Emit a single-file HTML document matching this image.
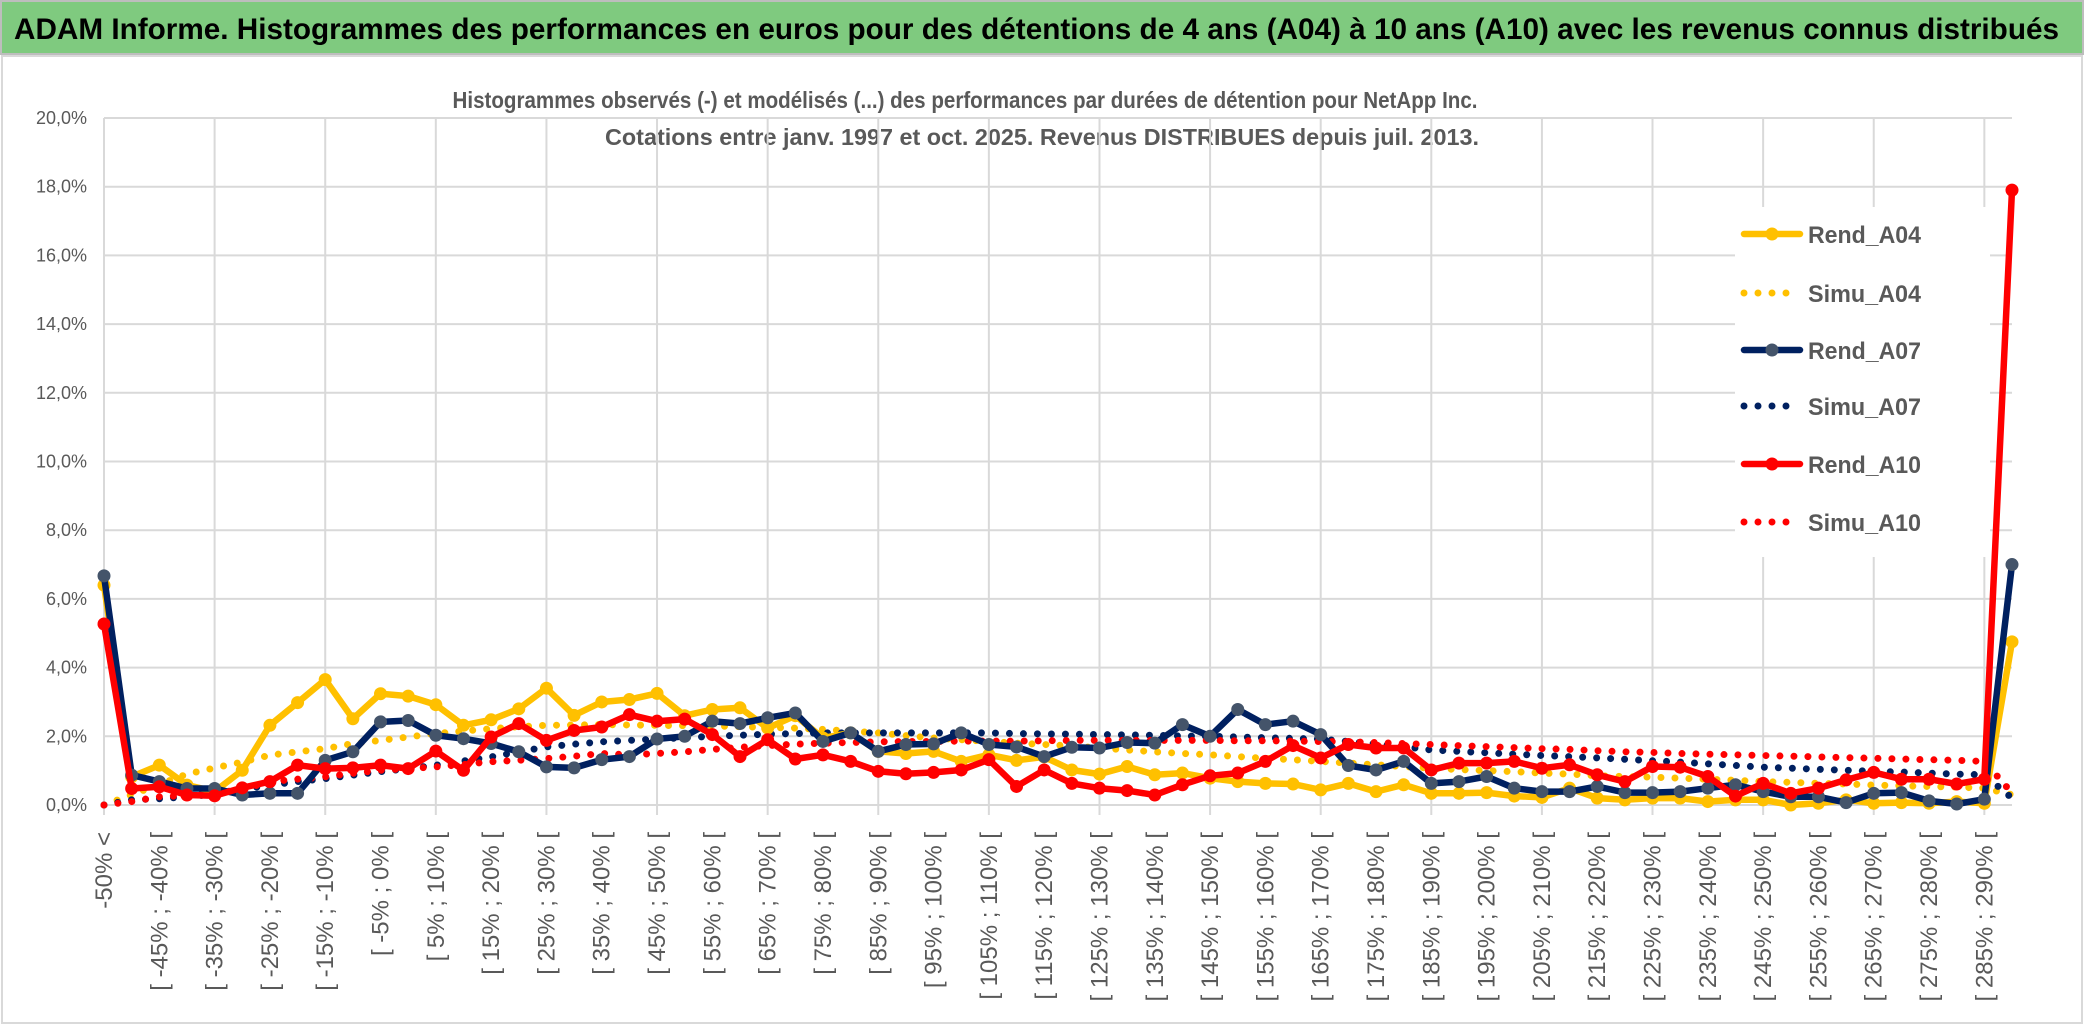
<!DOCTYPE html>
<html><head><meta charset="utf-8"><style>
html,body{margin:0;padding:0;background:#fff;}
svg{display:block;}
text{font-family:"Liberation Sans",sans-serif;}
</style></head><body>
<svg id="chart" width="2086" height="1033" viewBox="0 0 2086 1033" xmlns="http://www.w3.org/2000/svg">
<rect x="0" y="0" width="2086" height="1033" fill="#ffffff"/>
<rect x="1" y="1" width="2082" height="53" fill="#7fca7f" stroke="#bdbdbd" stroke-width="2"/>
<text x="14" y="39" font-size="30" font-weight="bold" fill="#000" textLength="2045" lengthAdjust="spacingAndGlyphs">ADAM Informe. Histogrammes des performances en euros pour des détentions de 4 ans (A04) à 10 ans (A10) avec les revenus connus distribués</text>
<rect x="2" y="56" width="2080" height="967" fill="#fff" stroke="#d9d9d9" stroke-width="2"/>
<text x="965" y="108" font-size="23" font-weight="bold" fill="#595959" text-anchor="middle" textLength="1025" lengthAdjust="spacingAndGlyphs">Histogrammes observés (-) et modélisés (...) des performances par durées de détention pour NetApp Inc.</text>
<text x="1042" y="145" font-size="23" font-weight="bold" fill="#595959" text-anchor="middle" textLength="874" lengthAdjust="spacingAndGlyphs">Cotations entre janv. 1997 et oct. 2025. Revenus DISTRIBUES depuis juil. 2013.</text>
<g id="grid"></g>
<g id="yaxis"></g>
<g id="xaxis"></g>
<rect x="1735" y="207" width="255" height="350" fill="#fff"/>
<g id="series"></g>
<g id="legend"></g>
</svg>
<script>
const yTicks = [0,2,4,6,8,10,12,14,16,18,20];
const rendA04 = [6.4,0.82,1.16,0.58,0.39,1.01,2.32,2.98,3.65,2.51,3.24,3.17,2.92,2.32,2.48,2.8,3.4,2.61,3.0,3.07,3.25,2.6,2.78,2.83,2.24,2.6,1.95,2.1,1.56,1.5,1.56,1.27,1.46,1.3,1.4,1.02,0.9,1.12,0.88,0.93,0.78,0.68,0.63,0.61,0.44,0.63,0.39,0.59,0.34,0.34,0.36,0.26,0.22,0.49,0.2,0.15,0.2,0.2,0.1,0.15,0.15,0,0.05,0.15,0.05,0.07,0.05,0.1,0.05,4.75];
const simuA04 = [0,0.3,0.6,0.9,1.08,1.25,1.45,1.55,1.64,1.79,1.88,1.98,2.08,2.15,2.22,2.28,2.32,2.33,2.34,2.33,2.32,2.31,2.3,2.28,2.26,2.24,2.2,2.15,2.1,2.02,1.95,1.9,1.85,1.8,1.76,1.72,1.66,1.6,1.55,1.5,1.46,1.41,1.36,1.32,1.27,1.22,1.17,1.12,1.07,1.03,1.0,0.97,0.93,0.9,0.85,0.83,0.81,0.78,0.75,0.72,0.68,0.66,0.63,0.61,0.58,0.56,0.54,0.52,0.49,0.3];
const rendA07 = [6.67,0.87,0.68,0.48,0.48,0.29,0.34,0.34,1.3,1.55,2.42,2.46,2.03,1.93,1.79,1.55,1.11,1.08,1.32,1.41,1.92,2.0,2.44,2.37,2.54,2.68,1.85,2.1,1.56,1.76,1.78,2.1,1.76,1.69,1.41,1.68,1.66,1.82,1.8,2.34,2.0,2.78,2.34,2.44,2.05,1.15,1.02,1.27,0.63,0.68,0.83,0.49,0.39,0.39,0.54,0.36,0.36,0.39,0.49,0.59,0.39,0.24,0.24,0.07,0.34,0.36,0.12,0.03,0.17,7.0];
const simuA07 = [0,0.15,0.18,0.24,0.32,0.45,0.58,0.68,0.77,0.87,0.97,1.06,1.16,1.28,1.4,1.55,1.69,1.77,1.84,1.88,1.92,1.96,2.0,2.03,2.06,2.08,2.1,2.1,2.1,2.1,2.1,2.1,2.1,2.08,2.07,2.06,2.05,2.04,2.03,2.01,2.0,1.98,1.96,1.94,1.92,1.85,1.78,1.7,1.6,1.56,1.52,1.48,1.44,1.41,1.37,1.33,1.29,1.25,1.2,1.15,1.1,1.07,1.04,1.01,0.98,0.96,0.93,0.9,0.88,0.2];
const rendA10 = [5.27,0.48,0.53,0.29,0.27,0.5,0.68,1.16,1.06,1.08,1.16,1.06,1.57,1.01,1.98,2.37,1.88,2.17,2.27,2.63,2.44,2.5,2.05,1.41,1.9,1.34,1.46,1.27,0.98,0.91,0.95,1.02,1.32,0.54,1.02,0.63,0.49,0.42,0.29,0.59,0.85,0.93,1.27,1.73,1.37,1.76,1.66,1.66,1.02,1.22,1.22,1.27,1.07,1.17,0.88,0.68,1.12,1.1,0.83,0.26,0.63,0.34,0.49,0.73,0.95,0.75,0.75,0.61,0.75,17.9];
const simuA10 = [0,0.1,0.24,0.28,0.34,0.45,0.68,0.75,0.82,0.92,1.01,1.06,1.11,1.18,1.26,1.3,1.35,1.42,1.5,1.46,1.5,1.55,1.62,1.68,1.73,1.77,1.8,1.82,1.84,1.85,1.85,1.86,1.86,1.86,1.87,1.88,1.88,1.88,1.88,1.88,1.88,1.87,1.87,1.86,1.85,1.84,1.82,1.79,1.76,1.73,1.7,1.67,1.64,1.62,1.58,1.55,1.53,1.5,1.48,1.46,1.44,1.42,1.4,1.38,1.36,1.34,1.32,1.3,1.27,0.35];
const legendLabels = ["Rend_A04","Simu_A04","Rend_A07","Simu_A07","Rend_A10","Simu_A10"];

const NS = "http://www.w3.org/2000/svg";
const N = rendA04.length;
const categories = [];
for (let i = 0; i < N; i++) {
  if (i === 0) categories.push("-50% <");
  else if (i === N - 1) categories.push("> 290%");
  else { const a = -50 + 5 * (i - 1); categories.push("[ " + a + "% ; " + (a + 5) + "% ["); }
}
const X0 = 104, X1 = 2012, Y0 = 805, YTOP = 118, VMAX = 20;
function xs(i){ return X0 + i * (X1 - X0) / (N - 1); }
function ys(v){ return Y0 - v * (Y0 - YTOP) / VMAX; }
function mk(tag, attrs, parent){ const e = document.createElementNS(NS, tag); for (const k in attrs) e.setAttribute(k, attrs[k]); parent.appendChild(e); return e; }

const grid = document.getElementById('grid');
yTicks.forEach(t => {
  const l = mk('line', {x1:X0, x2:X1, y1:ys(t), y2:ys(t), stroke:'#d9d9d9', 'stroke-width':2}, grid);
  
  
});
for (let i = 0; i < N; i += 4) {
  const l = mk('line', {x1:xs(i), x2:xs(i), y1:YTOP, y2:Y0 + 10, stroke:'#d9d9d9', 'stroke-width':2}, grid);
  
  
}
const yaxis = document.getElementById('yaxis');
yTicks.forEach(t => {
  const tx = mk('text', {x:87, y:ys(t) + 6, 'font-size':18, fill:'#595959', 'text-anchor':'end'}, yaxis);
  tx.textContent = t.toFixed(1).replace('.', ',') + '%';
  
  
});
const xaxis = document.getElementById('xaxis');
for (let i = 0; i < N - 1; i += 2) {
  const x = xs(i) + 8, y = 832;
  const tx = mk('text', {x:x, y:y, 'font-size':24, fill:'#595959', 'text-anchor':'end', transform:'rotate(-90 ' + x + ' ' + y + ')'}, xaxis);
  tx.textContent = categories[i];
  
  
}

const seriesG = document.getElementById('series');
function pts(arr){ return arr.map((v, i) => xs(i).toFixed(1) + ',' + ys(v).toFixed(1)).join(' '); }
function dotted(arr, color, name){
  const p = mk('polyline', {points:pts(arr), fill:'none', stroke:color, 'stroke-width':7, 'stroke-linecap':'round', 'stroke-dasharray':'0 14'}, seriesG);
  
  
}
function solid(arr, color, mcolor, name){
  const p = mk('polyline', {points:pts(arr), fill:'none', stroke:color, 'stroke-width':6.5, 'stroke-linejoin':'round'}, seriesG);
  
  
  arr.forEach((v, i) => {
    const c = mk('circle', {cx:xs(i), cy:ys(v), r:6.5, fill:mcolor}, seriesG);
    
    
  });
}
dotted(simuA04, '#FFC000', 'simu-a04-line');
dotted(simuA07, '#002060', 'simu-a07-line');
dotted(simuA10, '#FF0000', 'simu-a10-line');
solid(rendA04, '#FFC000', '#FFC000', 'rend-a04-line');
solid(rendA07, '#002060', '#44546A', 'rend-a07-line');
solid(rendA10, '#FF0000', '#FF0000', 'rend-a10-line');

const legend = document.getElementById('legend');
const lcolors = ['#FFC000','#FFC000','#002060','#002060','#FF0000','#FF0000'];
const lys = [234, 293, 350, 406, 464, 522];
legendLabels.forEach((lab, k) => {
  const y = lys[k];
  const g = mk('g', {}, legend);
  
  
  if (k % 2 === 0) {
    mk('line', {x1:1744, x2:1800, y1:y, y2:y, stroke:lcolors[k], 'stroke-width':6.5, 'stroke-linecap':'round'}, g);
    mk('circle', {cx:1772, cy:y, r:6.5, fill:(k === 2 ? '#44546A' : lcolors[k])}, g);
  } else {
    mk('line', {x1:1744, x2:1800, y1:y, y2:y, stroke:lcolors[k], 'stroke-width':7, 'stroke-linecap':'round', 'stroke-dasharray':'0 14'}, g);
  }
  const t = mk('text', {x:1808, y:y + 9, 'font-size':24, 'font-weight':'bold', fill:'#595959', textLength:113, lengthAdjust:'spacingAndGlyphs'}, g);
  t.textContent = lab;
});
</script>
</body></html>
